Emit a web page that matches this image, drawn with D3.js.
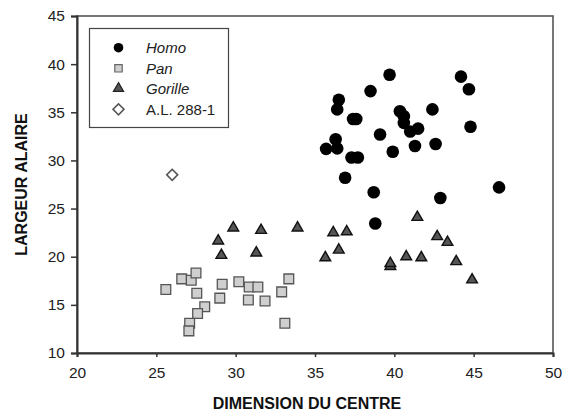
<!DOCTYPE html>
<html><head><meta charset="utf-8">
<script src="https://cdn.jsdelivr.net/npm/d3@7"></script>
<style>body{margin:0;background:#fff;}svg{display:block;font-family:Arial,"Liberation Sans",sans-serif;}</style>
</head><body><svg id="c" width="567" height="414"></svg>
<script>
const homoX = [39.7,44.2,44.7,38.5,36.5,36.4,42.4,40.35,40.6,40.6,41.0,41.5,37.4,37.6,44.8,39.1,36.3,35.7,36.4,41.3,42.6,39.9,37.3,37.7,36.9,38.7,42.9,46.6,38.8];
const homoY = [38.9,38.7,37.4,37.2,36.3,35.3,35.3,35.1,34.6,33.9,33.0,33.3,34.3,34.3,33.5,32.7,32.2,31.2,31.25,31.5,31.7,30.9,30.3,30.3,28.2,26.7,26.1,27.2,23.45];
const panX = [25.6,26.6,27.2,27.5,27.55,28.05,27.6,27.1,27.05,29.15,29.0,30.2,30.85,31.4,30.8,31.85,32.9,33.35,33.1];
const panY = [16.6,17.7,17.55,18.3,16.2,14.8,14.1,13.1,12.3,17.15,15.7,17.4,16.85,16.85,15.5,15.4,16.35,17.7,13.1];
const gorX = [28.9,29.1,29.85,31.6,31.3,33.9,35.65,36.15,37.0,36.5,41.45,42.7,43.35,39.75,39.75,40.75,41.7,43.9,44.9];
const gorY = [21.65,20.15,23.0,22.75,20.4,23.0,19.9,22.5,22.6,20.7,24.1,22.1,21.5,19.0,19.3,20.0,19.9,19.5,17.6];
const alX = [26.0];
const alY = [28.5];
const xTicks = [20,25,30,35,40,45,50];
const yTicks = [10,15,20,25,30,35,40,45];
const legendLabels = ["Homo","Pan","Gorille","A.L. 288-1"];

const svg = d3.select("#c");
const L=77,R=553,T=16,B=353;
const x = d3.scaleLinear().domain([20,50]).range([L,R]);
const y = d3.scaleLinear().domain([10,45]).range([B,T]);
const axCol="#333";

svg.append("rect").attr("x",L).attr("y",T).attr("width",R-L).attr("height",B-T)
  .attr("fill","none").attr("stroke","#555").attr("stroke-width",1.6);

const xa = svg.append("g").attr("transform",`translate(0,${B})`)
  .call(d3.axisBottom(x).tickValues(xTicks).tickSize(4).tickPadding(10).tickFormat(d3.format("d")));
const ya = svg.append("g").attr("transform",`translate(${L},0)`)
  .call(d3.axisLeft(y).tickValues(yTicks).tickSize(6).tickPadding(6).tickFormat(d3.format("d")));
[xa,ya].forEach(g=>{
  g.select(".domain").attr("stroke",axCol).attr("stroke-width",2);
  g.selectAll(".tick line").attr("stroke",axCol).attr("stroke-width",1.5);
  g.selectAll(".tick text").attr("fill","#222").style("font-size","15.5px").style("font-family","Arial, 'Liberation Sans', sans-serif");
});

svg.append("text").attr("x",(L+R)/2-8).attr("y",409).attr("text-anchor","middle")
  .style("font-size","16px").style("font-weight","bold").attr("fill","#111").text("DIMENSION DU CENTRE");
svg.append("text").attr("transform",`translate(27,${(T+B)/2}) rotate(-90)`).attr("text-anchor","middle")
  .style("font-size","16px").style("font-weight","bold").attr("fill","#111").text("LARGEUR ALAIRE");

const sq = d3.symbol().type(d3.symbolSquare).size(95);
const tri = d3.symbol().type(d3.symbolTriangle).size(50);
const dia = d3.symbol().type(d3.symbolSquare).size(60);

const pan = panX.map((v,i)=>[v,panY[i]]);
const gor = gorX.map((v,i)=>[v,gorY[i]]);
const homo = homoX.map((v,i)=>[v,homoY[i]]);
const al = alX.map((v,i)=>[v,alY[i]]);

svg.append("g").selectAll("path").data(pan).join("path")
  .attr("d",sq).attr("transform",d=>`translate(${x(d[0])},${y(d[1])})`)
  .attr("fill","#cfcfcf").attr("stroke","#555").attr("stroke-width",1.3);
svg.append("g").selectAll("path").data(gor).join("path")
  .attr("d",tri).attr("transform",d=>`translate(${x(d[0])},${y(d[1])})`)
  .attr("fill","#555").attr("stroke","#111").attr("stroke-width",1.4);
svg.append("g").selectAll("circle").data(homo).join("circle")
  .attr("cx",d=>x(d[0])).attr("cy",d=>y(d[1])).attr("r",6.3).attr("fill","#000");
svg.append("g").selectAll("path").data(al).join("path")
  .attr("d",dia).attr("transform",d=>`translate(${x(d[0])},${y(d[1])}) rotate(45)`)
  .attr("fill","#fff").attr("stroke","#555").attr("stroke-width",1.6);

const lg = svg.append("g");
lg.append("rect").attr("x",89.5).attr("y",28.5).attr("width",139).attr("height",99)
  .attr("fill","#fff").attr("stroke","#444").attr("stroke-width",1.2);
const rows=[47.7,68.3,88.5,109.3];
const sx=118.5, tx=146;
lg.append("circle").attr("cx",sx).attr("cy",rows[0]).attr("r",4.8).attr("fill","#000");
lg.append("path").attr("d",d3.symbol().type(d3.symbolSquare).size(55)).attr("transform",`translate(${sx},${rows[1]})`)
  .attr("fill","#cfcfcf").attr("stroke","#666").attr("stroke-width",1.2);
lg.append("path").attr("d",d3.symbol().type(d3.symbolTriangle).size(45)).attr("transform",`translate(${sx},${rows[2]})`)
  .attr("fill","#555").attr("stroke","#222").attr("stroke-width",1.2);
lg.append("path").attr("d",dia).attr("transform",`translate(${sx},${rows[3]}) rotate(45)`)
  .attr("fill","#fff").attr("stroke","#555").attr("stroke-width",1.6);
legendLabels.forEach((t,i)=>{
  lg.append("text").attr("x",tx).attr("y",rows[i]+5.5).style("font-size","15px")
    .style("font-style",i<3?"italic":"normal").attr("fill","#222").text(t);
});
</script></body></html>
